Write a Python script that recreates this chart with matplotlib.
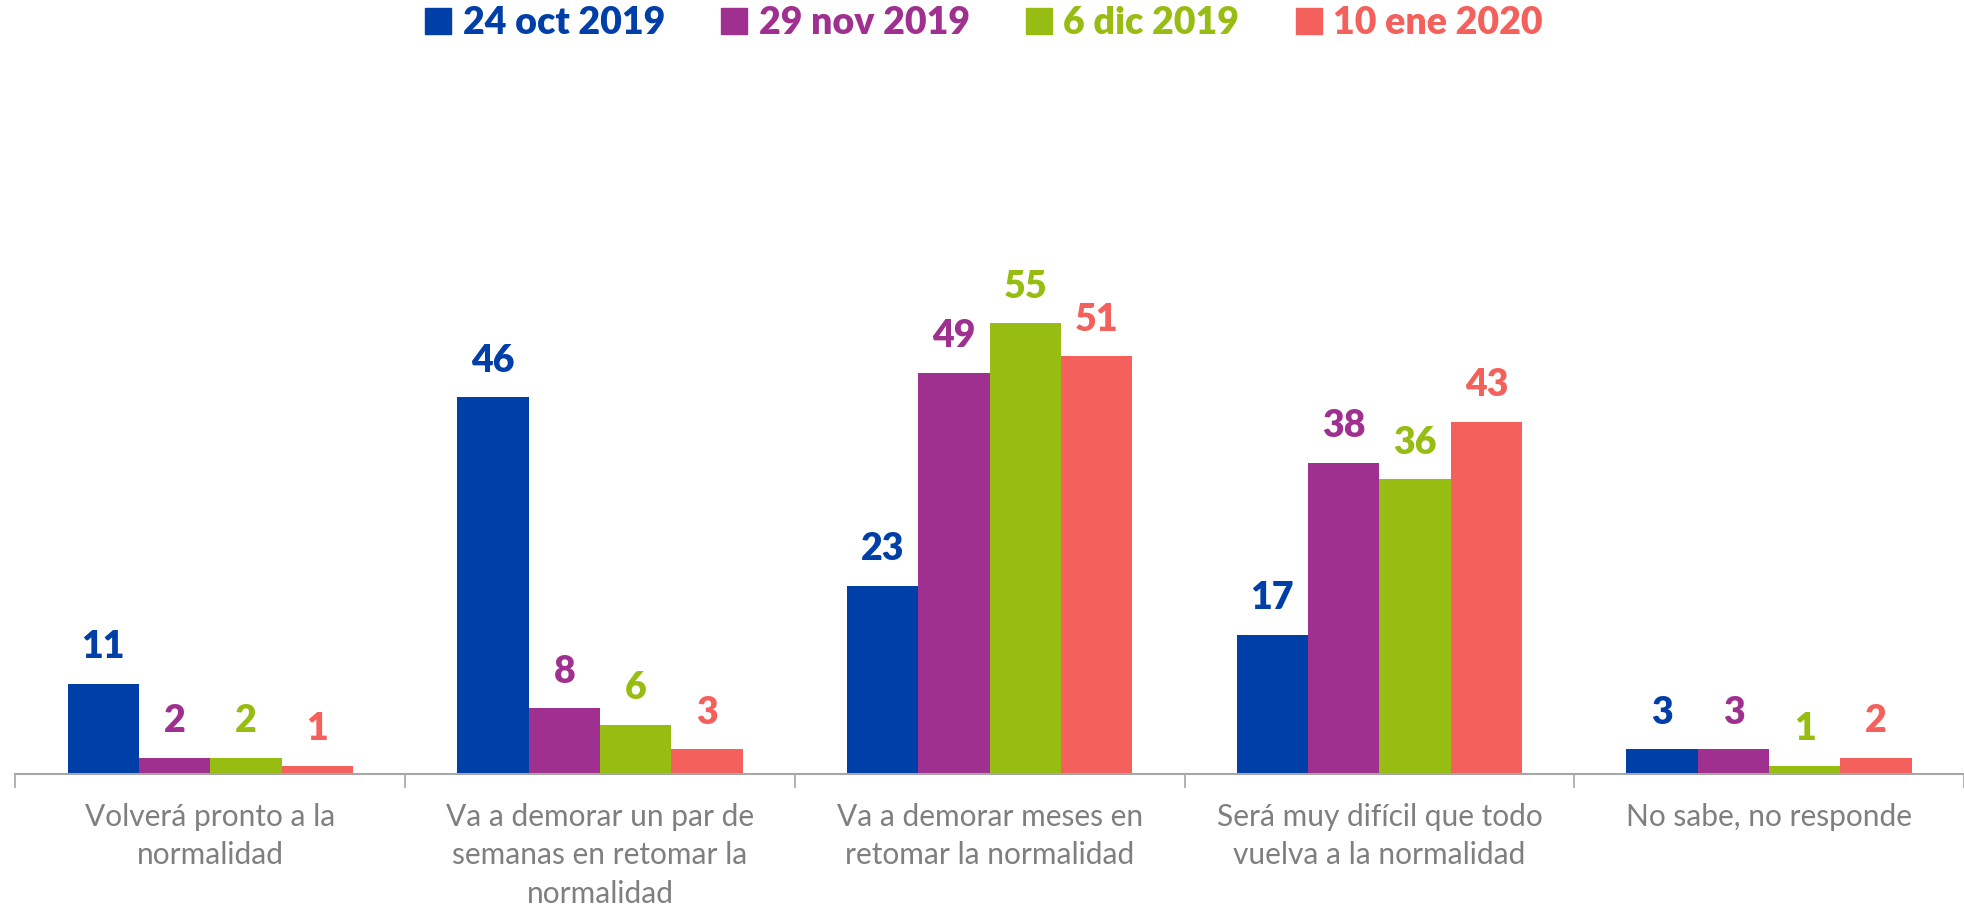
import matplotlib
matplotlib.use("Agg")
import matplotlib.pyplot as plt
from matplotlib.lines import Line2D
import numpy as np

categories = [
    "Volverá pronto a la\nnormalidad",
    "Va a demorar un par de\nsemanas en retomar la\nnormalidad",
    "Va a demorar meses en\nretomar la normalidad",
    "Será muy difícil que todo\nvuelva a la normalidad",
    "No sabe, no responde",
]
series_names = ["24 oct 2019", "29 nov 2019", "6 dic 2019", "10 ene 2020"]
oct_2019 = [11, 46, 23, 17, 3]
nov_2019 = [2, 8, 49, 38, 3]
dic_2019 = [2, 6, 55, 36, 1]
ene_2020 = [1, 3, 51, 43, 2]
series_values = [oct_2019, nov_2019, dic_2019, ene_2020]
colors = ["#003FA7", "#A0308F", "#98BD12", "#F4605B"]

plt.rcParams["font.family"] = ["Lato", "DejaVu Sans"]

fig = plt.figure(figsize=(19.64, 9.08), dpi=100)
left = 0.0078
ax = fig.add_axes([left, 0.1476, 1.0 - left, 0.5414])

x = np.arange(len(categories))
w = 0.183
for i, (vals, c) in enumerate(zip(series_values, colors)):
    pos = x + (i - 1.5) * w
    ax.bar(pos, vals, width=w, color=c, edgecolor="none")
    for xp, v in zip(pos, vals):
        ax.annotate(str(v), (xp, v), xytext=(0, 14), textcoords="offset points",
                    ha="center", va="bottom", fontsize=27, fontweight="heavy", color=c)

ax.set_xlim(-0.5, 4.5)
ax.set_ylim(0, 60)
for s in ["left", "right", "top"]:
    ax.spines[s].set_visible(False)
ax.spines["bottom"].set_color("#A6A6A6")
ax.spines["bottom"].set_linewidth(1.5)
ax.set_yticks([])
ax.set_xticks(x)
ax.set_xticklabels(categories, fontsize=21.5, color="#7F7F7F", linespacing=1.45)
ax.tick_params(axis="x", which="major", length=0, pad=21)
ax.set_xticks(np.arange(-0.5, 5.0, 1.0), minor=True)
ax.tick_params(axis="x", which="minor", length=10, width=1.2, color="#A6A6A6")

handles = [Line2D([0], [0], marker="s", linestyle="none", markersize=19,
                  markerfacecolor=c, markeredgecolor=c) for c in colors]
leg = fig.legend(handles, series_names, loc="center", bbox_to_anchor=(0.5, 0.975),
                 ncol=4, frameon=False, handletextpad=0.2, columnspacing=1.4,
                 handlelength=0.9, prop={"size": 27, "weight": "heavy"})
for t, c in zip(leg.get_texts(), colors):
    t.set_color(c)

fig.savefig("out.png", dpi=100)
